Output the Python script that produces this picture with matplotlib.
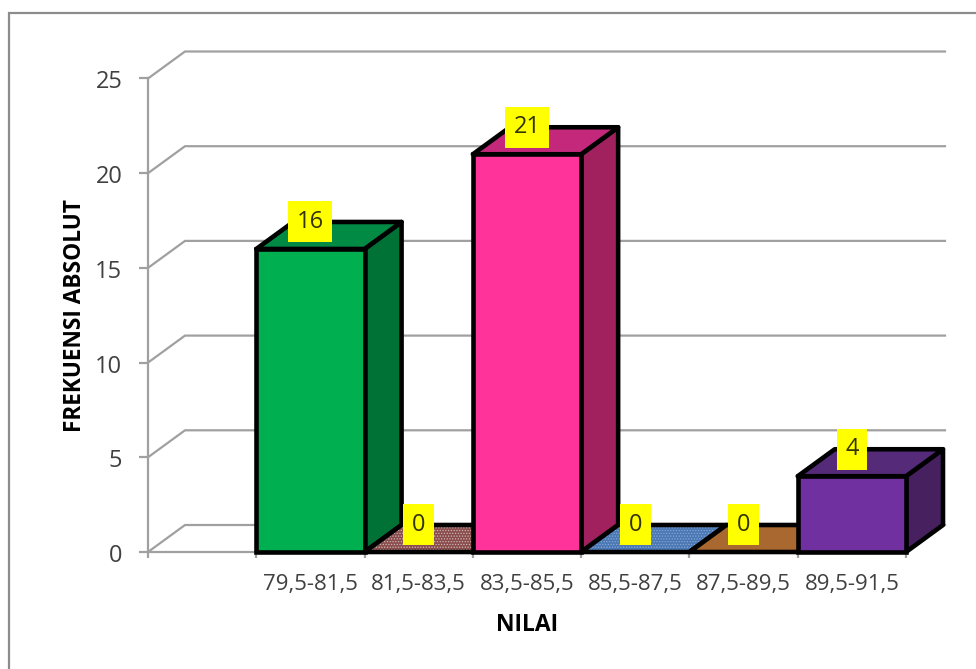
import matplotlib
matplotlib.use('Agg')
import matplotlib.pyplot as plt
from matplotlib.patches import Polygon, Rectangle
from matplotlib.transforms import ScaledTranslation

# frequency table
categories = ['', '79,5-81,5', '81,5-83,5', '83,5-85,5', '85,5-87,5', '87,5-89,5', '89,5-91,5']
frequencies = [None, 16, 0, 21, 0, 0, 4]
y_ticks = [0, 5, 10, 15, 20, 25]

# colours per bar: front, side, top
front_colors = [None, '#00B050', '#8A4B4B', '#FF3399', '#4A78B4', '#A9682F', '#7030A0']
side_colors = [None, '#007236', '#8A4B4B', '#A1215F', '#4A78B4', '#A9682F', '#47205F']
top_colors = [None, '#008A43', '#8A4B4B', '#C3287A', '#4A78B4', '#A9682F', '#552A78']
hatch_colors = [None, None, '#CDB8B8', None, '#86A6D2', None, None]

W, H = 976, 669
Y0, Y25 = 552, 78.5
DX = 37 / 108.3                # depth of the 3d box in category units
DY = 27 * 25 / (Y0 - Y25)      # depth in value units
GRAY = '#A0A0A0'
TEXT = '#404040'

plt.rcParams['font.family'] = ['Open Sans', 'DejaVu Sans']
plt.rcParams['hatch.linewidth'] = 0.6

fig = plt.figure(figsize=(W / 100, H / 100), dpi=100)
ax = fig.add_axes([148 / W, 1 - Y0 / H, (906 - 148) / W, (Y0 - Y25) / H])
ax.set_xlim(0, 7)
ax.set_ylim(0, 25)
ax.patch.set_alpha(0)

# outer chart frame, runs off the right and bottom edges
fig.add_artist(Rectangle((9 / W, -0.05), 1.1, 1.05 - 13 / H, transform=fig.transFigure,
                         fill=False, edgecolor='#8C8C8C', linewidth=1.6))

for s in ['top', 'right']:
    ax.spines[s].set_visible(False)
for s in ['left', 'bottom']:
    ax.spines[s].set_color(GRAY)
    ax.spines[s].set_linewidth(1.6)

# back wall gridlines with the slanted piece on the side wall
right_end = 7 + (945 - 906) / 108.3
for v in y_ticks:
    ax.plot([0, DX, right_end], [v, v + DY, v + DY], color=GRAY, lw=1.6,
            clip_on=False, zorder=1, solid_joinstyle='miter')

ax.set_yticks(y_ticks)
ax.set_yticklabels([str(v) for v in y_ticks], fontsize=17, color=TEXT)
ax.tick_params(axis='y', length=6.5, width=1.6, color=GRAY, direction='out', pad=12)
# numbers sit a little below their ticks
for lab in ax.get_yticklabels():
    lab.set_transform(lab.get_transform() + ScaledTranslation(0, -1.0 / 100, fig.dpi_scale_trans))

ax.set_xticks(range(8))
ax.set_xticklabels([''] * 8)
ax.set_xticks([i + 0.5 for i in range(7)], minor=True)
ax.set_xticklabels(categories, minor=True, fontsize=16, color=TEXT)
ax.tick_params(axis='x', which='major', length=4.5, width=1.6, color=GRAY, direction='out')
ax.tick_params(axis='x', which='minor', length=0, pad=16)

ax.set_xlabel('NILAI', fontsize=16.5, fontweight='bold', color='black', labelpad=13)
ax.set_ylabel('FREKUENSI ABSOLUT', fontsize=16.3, fontweight='bold', color='black', labelpad=6)

LW = 3.3
for i, val in enumerate(frequencies):
    if val is None:
        continue
    z = 3 + i
    top = [(i, val), (i + DX, val + DY), (i + 1 + DX, val + DY), (i + 1, val)]
    if hatch_colors[i]:
        ax.add_patch(Polygon(top, closed=True, facecolor=top_colors[i], edgecolor=hatch_colors[i],
                             hatch='......', linewidth=0, zorder=z, clip_on=False))
        ax.add_patch(Polygon(top, closed=True, fill=False, edgecolor='black',
                             linewidth=LW, zorder=z, clip_on=False, joinstyle='round'))
        continue
    if val == 0:
        ax.add_patch(Polygon(top, closed=True, facecolor=top_colors[i], edgecolor='black',
                             linewidth=LW, zorder=z, clip_on=False, joinstyle='round'))
        continue
    side = [(i + 1, 0), (i + 1 + DX, DY), (i + 1 + DX, val + DY), (i + 1, val)]
    ax.add_patch(Polygon(side, closed=True, facecolor=side_colors[i], edgecolor='black',
                         linewidth=LW, zorder=z, clip_on=False, joinstyle='round'))
    ax.add_patch(Polygon(top, closed=True, facecolor=top_colors[i], edgecolor='black',
                         linewidth=LW, zorder=z, clip_on=False, joinstyle='round'))
    ax.bar(i + 0.5, val, width=1, facecolor=front_colors[i], edgecolor='black',
           linewidth=LW, zorder=z + 0.1, clip_on=False)

# value labels sit on yellow boxes above each bar
for i, val in enumerate(frequencies):
    if val is None:
        continue
    ax.annotate(str(val), (i + 0.5, val), xytext=(0, 19.5), textcoords='offset points',
                ha='center', va='center', fontsize=17, color='#333300', zorder=30,
                annotation_clip=False,
                bbox=dict(boxstyle='square,pad=0.36', facecolor='#FFFF00', edgecolor='none'))

fig.savefig('out.png', dpi=100)
